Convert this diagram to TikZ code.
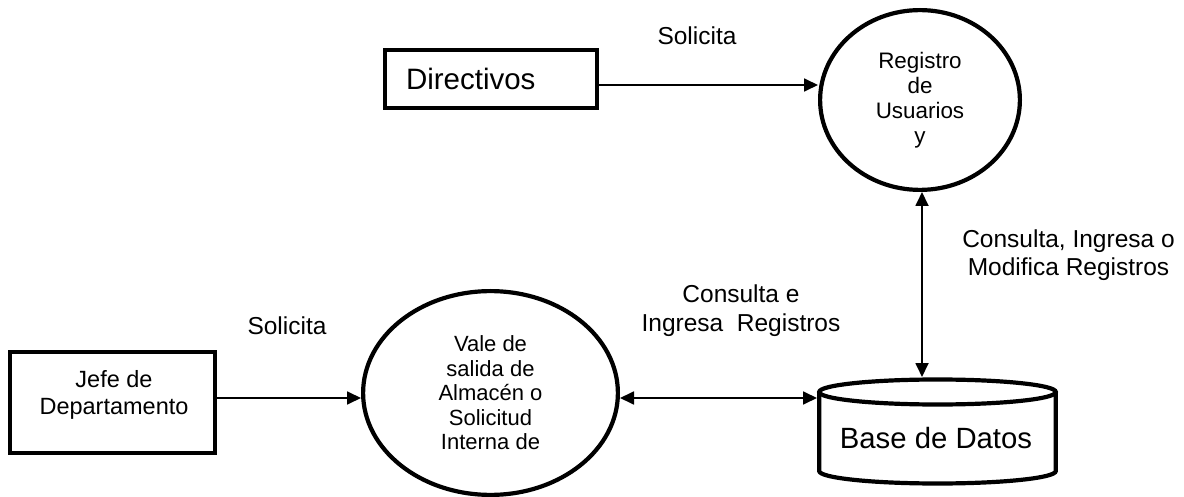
\documentclass[tikz,border=0pt]{standalone}
\usepackage{fontspec}
\setmainfont{Liberation Sans}
\usetikzlibrary{arrows.meta,shapes.geometric}
\begin{document}
\begin{tikzpicture}[x=1pt,y=-1pt,
  shapeline/.style={line width=4.2pt},
  entity/.style={draw, shapeline, rectangle, inner sep=0pt},
  process/.style={draw, shapeline, ellipse, inner sep=0pt, align=center},
  flow/.style={line width=1.8pt, -{Triangle[length=14pt,width=13pt]}},
  biflow/.style={line width=1.8pt, {Triangle[length=14pt,width=13pt]}-{Triangle[length=14pt,width=13pt]}},
  lbl/.style={align=center, inner sep=0pt, font=\fontsize{24.5}{28}\selectfont}
]
\useasboundingbox (0,0) rectangle (1184,497);

% external entities
\node[entity, minimum width=211.8pt, minimum height=57.8pt, inner xsep=20.9pt,
      text width=170pt, align=left, font=\fontsize{29.5}{34}\selectfont]
      (dir) at (491,79) {Directivos};
\node[entity, minimum width=204.8pt, minimum height=100.8pt] (jefe) at (112.5,402.5) {};
\node[align=center, inner sep=0pt, font=\fontsize{23.5}{27}\selectfont]
      (jefetxt) at (114,395) {Jefe de\\Departamento};

% processes
\node[process, minimum width=199.8pt, minimum height=179.8pt,
      font=\fontsize{22.4}{25}\selectfont] (reg) at (920,100) {Registro\\de\\Usuarios\\y};
\node[process, minimum width=254.8pt, minimum height=203.8pt,
      font=\fontsize{22}{24.5}\selectfont] (vale) at (490.5,393)
      {Vale de\\salida de\\Almacén o\\Solicitud\\Interna de};

% data store (cylinder)
\draw[shapeline] (937.5,392) ellipse [x radius=118.3pt, y radius=12.5pt];
\draw[shapeline] (819.2,392) -- (819.2,471)
   arc[start angle=180, end angle=360, x radius=118.3pt, y radius=12.5pt] -- (1055.8,392);
\node[inner sep=0pt, font=\fontsize{29.3}{34}\selectfont] (db) at (936,438) {Base de Datos};
\coordinate (dbtop) at (922,377);
\coordinate (dbleft) at (817,398);

% flow levels
\coordinate (yA) at (0,85);
\coordinate (yB) at (0,398);

% connectors
\draw[flow] (dir.east |- yA) -- (reg.west |- yA);
\draw[biflow] (reg.south -| dbtop) -- (dbtop);
\draw[biflow] (vale.east |- yB) -- (dbleft);
\draw[flow] (jefe.east |- yB) -- (vale.west |- yB);

% labels
\node[lbl] (sol1) at (697,36) {Solicita};
\node[lbl] (sol2) at (287,326) {Solicita};
\node[lbl, font=\fontsize{24.5}{29}\selectfont] (ce) at (741,311) {Consulta e\\Ingresa~~Registros};
\node[lbl, font=\fontsize{24.5}{27.5}\selectfont] (cim) at (1068.5,255) {Consulta, Ingresa o\\Modifica Registros};
\end{tikzpicture}
\end{document}
